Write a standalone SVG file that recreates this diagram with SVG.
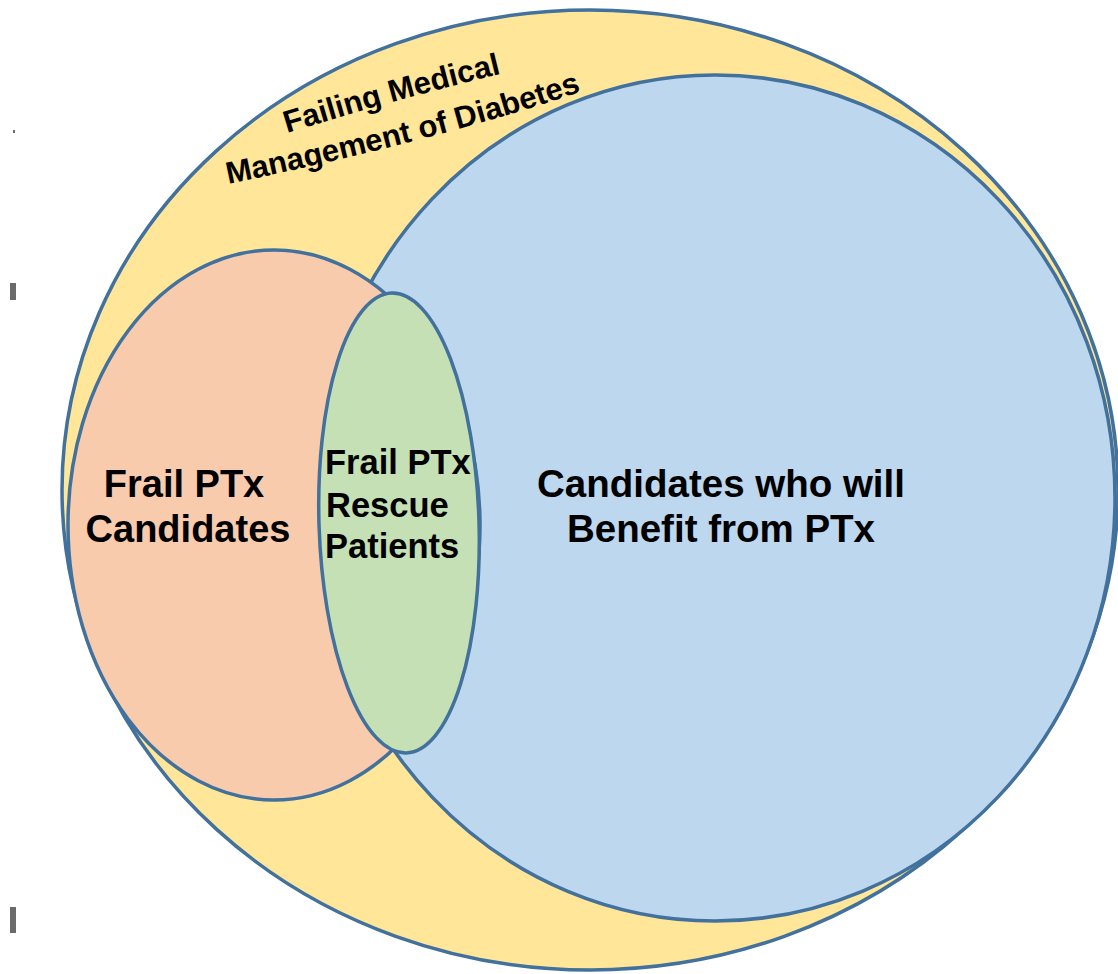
<svg xmlns="http://www.w3.org/2000/svg" width="1118" height="974" viewBox="0 0 1118 974">
  <style>
    .set { stroke: #41719C; stroke-width: 3.5; }
    .lbl { font-family: "Liberation Sans", Arial, sans-serif; font-weight: bold; fill: #000; }
    .mark { fill: #6b6b6b; }
  </style>
  <defs>
    <path id="arc1" d="M 287 133 Q 400 98 512 71"/>
    <path id="arc2" d="M 228 184 Q 440 140 592 88"/>
  </defs>
  <rect width="1118" height="974" fill="#ffffff"/>
  <rect class="mark" x="13" y="130" width="2" height="3"/>
  <rect class="mark" x="10" y="283" width="6" height="17"/>
  <rect class="mark" x="10" y="907" width="6" height="26"/>

  <g id="failing-medical-management">
    <ellipse class="set" cx="590" cy="490" rx="528" ry="480" fill="#FFE699"/>
    <text class="lbl" font-size="31"><textPath href="#arc1">Failing Medical</textPath></text>
    <text class="lbl" font-size="31"><textPath href="#arc2">Management of Diabetes</textPath></text>
  </g>

  <g id="benefit-candidates">
    <ellipse class="set" cx="715" cy="498" rx="400" ry="423" fill="#BDD7EE"/>
    <text class="lbl" font-size="38.5" text-anchor="middle" x="721" y="497">Candidates who will</text>
    <text class="lbl" font-size="38.5" text-anchor="middle" x="721" y="542">Benefit from PTx</text>
  </g>

  <g id="frail-candidates">
    <ellipse class="set" cx="274" cy="525" rx="206" ry="275" fill="#F8CBAD"/>
    <text class="lbl" font-size="38" text-anchor="middle" x="184" y="497">Frail PTx</text>
    <text class="lbl" font-size="38" text-anchor="middle" x="188" y="542">Candidates</text>
  </g>

  <g id="frail-rescue">
    <ellipse class="set" cx="399" cy="523" rx="80" ry="230" fill="#C5E0B4" transform="rotate(-1.8 399 523)"/>
    <text class="lbl" font-size="34.5" x="325" y="474">Frail PTx</text>
    <text class="lbl" font-size="34.5" x="326" y="517">Rescue</text>
    <text class="lbl" font-size="34.5" x="325" y="558">Patients</text>
  </g>

  <g id="connectors"></g>
</svg>
